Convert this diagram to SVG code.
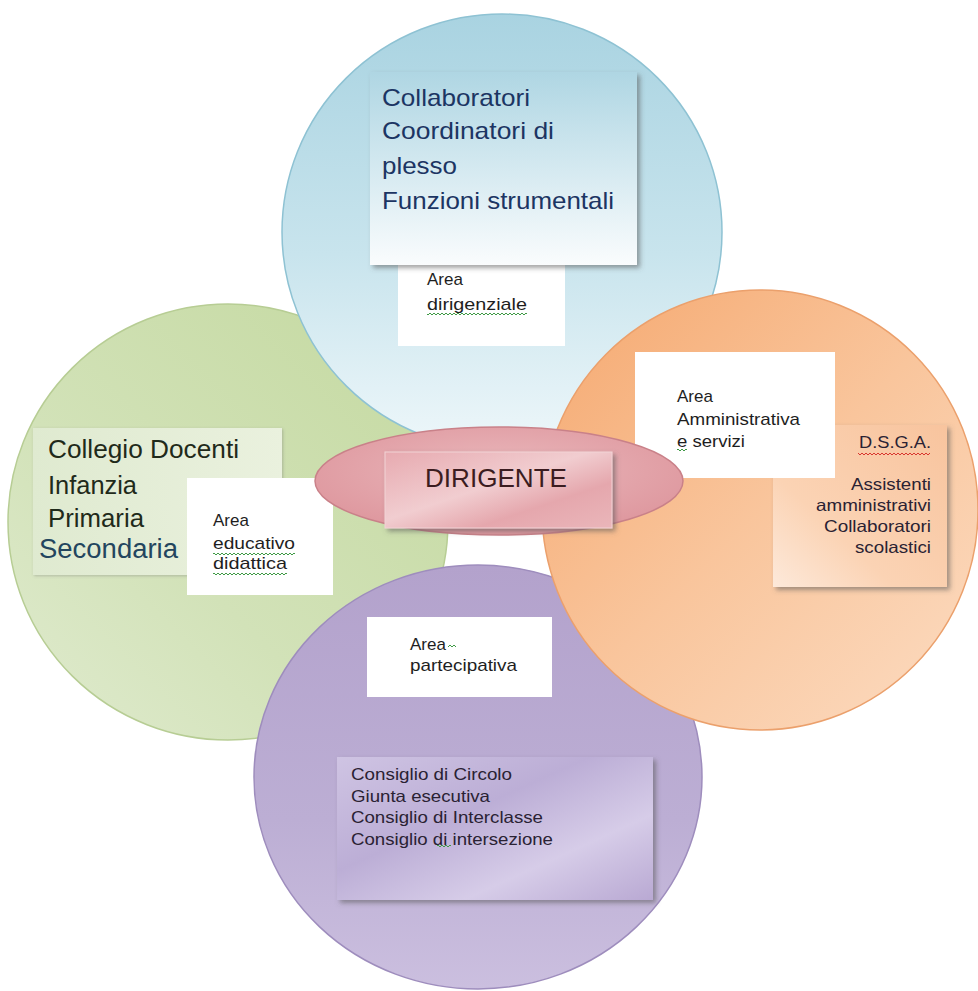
<svg xmlns="http://www.w3.org/2000/svg" width="978" height="991" viewBox="0 0 978 991">
  <defs>
    <style>
      text { font-family: "Liberation Sans", Arial, sans-serif; }
      .big { font-size: 24px; fill: #1c3563; }
      .green { font-size: 25px; fill: #1f2a1a; }
      .lbl { font-size: 17px; fill: #1e1e1e; }
      .small { font-size: 16.5px; fill: #2a2233; }
      .white { fill: #ffffff; }
    </style>
    <linearGradient id="gBlue" x1="0" y1="0" x2="0" y2="1">
      <stop offset="0" stop-color="#a9d3e1"/>
      <stop offset="0.55" stop-color="#c8e4ed"/>
      <stop offset="1" stop-color="#eef7fa"/>
    </linearGradient>
    <linearGradient id="gGreen" x1="1" y1="0" x2="0" y2="1">
      <stop offset="0" stop-color="#c4d9a0"/>
      <stop offset="0.6" stop-color="#d2e2b8"/>
      <stop offset="1" stop-color="#e0ebcf"/>
    </linearGradient>
    <linearGradient id="gOrange" x1="0" y1="0" x2="1" y2="1">
      <stop offset="0" stop-color="#f5a86f"/>
      <stop offset="0.5" stop-color="#f9c59c"/>
      <stop offset="1" stop-color="#fcdcc2"/>
    </linearGradient>
    <linearGradient id="gPurple" x1="0" y1="0" x2="0" y2="1">
      <stop offset="0" stop-color="#b3a2cc"/>
      <stop offset="0.6" stop-color="#bcaed4"/>
      <stop offset="1" stop-color="#cbbfdf"/>
    </linearGradient>
    <radialGradient id="gPink" cx="0.5" cy="0.4" r="0.6">
      <stop offset="0" stop-color="#eab8bc"/>
      <stop offset="1" stop-color="#de979e"/>
    </radialGradient>
    <linearGradient id="gPinkBox" x1="0" y1="0" x2="1" y2="1">
      <stop offset="0" stop-color="#e7aab0"/>
      <stop offset="0.45" stop-color="#f1cdd0"/>
      <stop offset="0.7" stop-color="#e5a7ad"/>
      <stop offset="1" stop-color="#eab6ba"/>
    </linearGradient>
    <linearGradient id="gBlueBox" x1="0" y1="0" x2="0" y2="1">
      <stop offset="0" stop-color="#afd6e3"/>
      <stop offset="0.6" stop-color="#dcedf3"/>
      <stop offset="1" stop-color="#fafcfd"/>
    </linearGradient>
    <linearGradient id="gGreenBox" x1="0" y1="0" x2="1" y2="0">
      <stop offset="0" stop-color="#dfead0"/>
      <stop offset="1" stop-color="#eaf1de"/>
    </linearGradient>
    <linearGradient id="gPeachBox" x1="0" y1="1" x2="1" y2="0">
      <stop offset="0" stop-color="#fde9da"/>
      <stop offset="0.35" stop-color="#fbd3b4"/>
      <stop offset="1" stop-color="#f8c49e"/>
    </linearGradient>
    <linearGradient id="gLilacBox" x1="0" y1="0" x2="1" y2="1">
      <stop offset="0" stop-color="#cfc4e3"/>
      <stop offset="0.4" stop-color="#bcaed6"/>
      <stop offset="0.7" stop-color="#d6cce8"/>
      <stop offset="1" stop-color="#b9a9d3"/>
    </linearGradient>
    <filter id="shadow" x="-10%" y="-10%" width="125%" height="130%">
      <feDropShadow dx="3" dy="3" stdDeviation="2.5" flood-color="#555" flood-opacity="0.55"/>
    </filter>
    <filter id="soft" x="-5%" y="-5%" width="110%" height="110%">
      <feDropShadow dx="1" dy="1" stdDeviation="1.5" flood-color="#666" flood-opacity="0.35"/>
    </filter>
    <!-- spell-check style wavy underlines -->
    <pattern id="sqG" width="4" height="4" patternUnits="userSpaceOnUse">
      <path d="M0 3 L2 1 L4 3" fill="none" stroke="#3f9a45" stroke-width="1"/>
    </pattern>
    <pattern id="sqR" width="4" height="4" patternUnits="userSpaceOnUse">
      <path d="M0 3 L2 1 L4 3" fill="none" stroke="#d9362e" stroke-width="1"/>
    </pattern>
  </defs>

  <rect width="978" height="991" fill="#ffffff"/>

  <!-- circles, back to front -->
  <g id="circle-educativo">
    <ellipse cx="228" cy="522" rx="220" ry="218" fill="url(#gGreen)" stroke="#b7cd94" stroke-width="1.5"/>
  </g>
  <g id="circle-dirigenziale">
    <ellipse cx="502" cy="232" rx="220" ry="218" fill="url(#gBlue)" stroke="#8ec2d3" stroke-width="1.5"/>
  </g>
  <g id="circle-partecipativa">
    <ellipse cx="478" cy="777" rx="224" ry="212" fill="url(#gPurple)" stroke="#9e8dbd" stroke-width="1.5"/>
  </g>
  <g id="circle-amministrativa">
    <ellipse cx="760" cy="510" rx="218" ry="220" fill="url(#gOrange)" stroke="#eba06c" stroke-width="1.5"/>
  </g>

  <!-- area dirigenziale -->
  <g id="area-dirigenziale">
    <rect x="398" y="262" width="167" height="84" class="white"/>
    <text class="lbl" x="427" y="285">Area</text>
    <text class="lbl" x="427" y="310" textLength="100" lengthAdjust="spacingAndGlyphs">dirigenziale</text>
    <rect x="427" y="312" width="100" height="4" fill="url(#sqG)"/>
  </g>
  <g id="box-collaboratori">
    <rect x="370" y="72" width="267" height="193" fill="url(#gBlueBox)" filter="url(#shadow)"/>
    <text class="big" x="382" y="106" textLength="148" lengthAdjust="spacingAndGlyphs">Collaboratori</text>
    <text class="big" x="382" y="139" textLength="172" lengthAdjust="spacingAndGlyphs">Coordinatori di</text>
    <text class="big" x="382" y="174" textLength="75" lengthAdjust="spacingAndGlyphs">plesso</text>
    <text class="big" x="382" y="209" textLength="232" lengthAdjust="spacingAndGlyphs">Funzioni strumentali</text>
  </g>

  <!-- area educativo didattica -->
  <g id="box-collegio">
    <rect x="33" y="428" width="249" height="147" fill="url(#gGreenBox)" filter="url(#soft)"/>
    <text class="green" x="48" y="458" textLength="191" lengthAdjust="spacingAndGlyphs">Collegio Docenti</text>
    <text class="green" x="48" y="494" textLength="89" lengthAdjust="spacingAndGlyphs">Infanzia</text>
    <text class="green" x="48" y="527" textLength="96" lengthAdjust="spacingAndGlyphs">Primaria</text>
    <text x="39" y="558" font-size="27" fill="#23455e" textLength="139" lengthAdjust="spacingAndGlyphs">Secondaria</text>
  </g>
  <g id="area-educativo">
    <rect x="187" y="478" width="146" height="117" class="white"/>
    <text class="lbl" x="213" y="526">Area</text>
    <text class="lbl" x="213" y="549" textLength="82" lengthAdjust="spacingAndGlyphs">educativo</text>
    <text class="lbl" x="213" y="569" textLength="74" lengthAdjust="spacingAndGlyphs">didattica</text>
    <rect x="213" y="552" width="82" height="4" fill="url(#sqG)"/>
    <rect x="213" y="572" width="74" height="4" fill="url(#sqG)"/>
  </g>

  <!-- area amministrativa e servizi -->
  <g id="box-dsga">
    <rect x="773" y="425" width="174" height="162" fill="url(#gPeachBox)" filter="url(#shadow)"/>
    <text class="small" x="931" y="448" text-anchor="end" textLength="72" lengthAdjust="spacingAndGlyphs">D.S.G.A.</text>
    <rect x="858" y="452" width="72" height="4" fill="url(#sqR)"/>
    <text class="small" x="931" y="490" text-anchor="end" textLength="80" lengthAdjust="spacingAndGlyphs">Assistenti</text>
    <text class="small" x="931" y="511" text-anchor="end" textLength="115" lengthAdjust="spacingAndGlyphs">amministrativi</text>
    <text class="small" x="931" y="532" text-anchor="end" textLength="107" lengthAdjust="spacingAndGlyphs">Collaboratori</text>
    <text class="small" x="931" y="553" text-anchor="end" textLength="76" lengthAdjust="spacingAndGlyphs">scolastici</text>
  </g>
  <g id="area-amministrativa">
    <rect x="635" y="352" width="200" height="126" class="white"/>
    <text class="lbl" x="677" y="402">Area</text>
    <text class="lbl" x="677" y="425" textLength="123" lengthAdjust="spacingAndGlyphs">Amministrativa</text>
    <text class="lbl" x="677" y="447" textLength="68" lengthAdjust="spacingAndGlyphs">e servizi</text>
    <rect x="677" y="448" width="10" height="4" fill="url(#sqG)"/>
  </g>

  <!-- central node -->
  <g id="dirigente">
    <ellipse cx="499" cy="481" rx="184" ry="54" fill="url(#gPink)" stroke="#c98189" stroke-width="1.5"/>
    <rect x="385" y="452" width="227" height="76" fill="url(#gPinkBox)" stroke="#f2d3d6" stroke-width="1" filter="url(#shadow)"/>
    <text x="496" y="487" text-anchor="middle" font-size="25" fill="#3b1c20" textLength="142" lengthAdjust="spacingAndGlyphs">DIRIGENTE</text>
  </g>

  <!-- area partecipativa -->
  <g id="area-partecipativa">
    <rect x="367" y="617" width="185" height="80" class="white"/>
    <text class="lbl" x="410" y="650">Area</text>
    <rect x="448" y="644" width="8" height="4" fill="url(#sqG)"/>
    <text class="lbl" x="410" y="671" textLength="107" lengthAdjust="spacingAndGlyphs">partecipativa</text>
  </g>
  <g id="box-consigli">
    <rect x="337" y="757" width="316" height="143" fill="url(#gLilacBox)" filter="url(#shadow)"/>
    <text class="small" x="351" y="780" textLength="161" lengthAdjust="spacingAndGlyphs">Consiglio di Circolo</text>
    <text class="small" x="351" y="802" textLength="139" lengthAdjust="spacingAndGlyphs">Giunta esecutiva</text>
    <text class="small" x="351" y="823" textLength="192" lengthAdjust="spacingAndGlyphs">Consiglio di Interclasse</text>
    <text class="small" x="351" y="845" textLength="202" lengthAdjust="spacingAndGlyphs">Consiglio di intersezione</text>
    <rect x="437" y="844" width="14" height="4" fill="url(#sqG)"/>
  </g>
</svg>
